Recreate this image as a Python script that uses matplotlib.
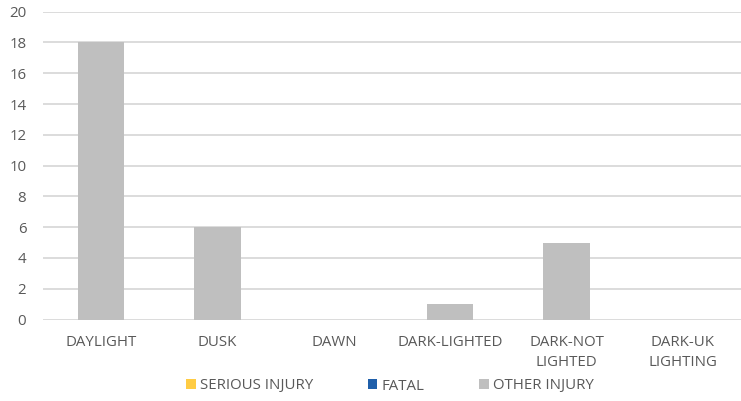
import matplotlib
matplotlib.use("Agg")
import matplotlib.pyplot as plt
import numpy as np

categories = ["DAYLIGHT", "DUSK", "DAWN", "DARK-LIGHTED", "DARK-NOT\nLIGHTED", "DARK-UK\nLIGHTING"]
serious_injury = [0, 0, 0, 0, 0, 0]
fatal = [0, 0, 0, 0, 0, 0]
other_injury = [18, 6, 0, 1, 5, 0]
series_names = ["SERIOUS INJURY", "FATAL", "OTHER INJURY"]
series_colors = ["#FFCC44", "#1F5FAA", "#BFBFBF"]
y_ticks = [0, 2, 4, 6, 8, 10, 12, 14, 16, 18, 20]

plt.rcParams['font.family'] = ['Open Sans', 'DejaVu Sans']
txt = "#595959"

fig = plt.figure(figsize=(7.41, 4.01), dpi=100)
ax = fig.add_axes([43/741, 1 - 319.5/401, 698/741, (319.5 - 11.7)/401])

x = np.arange(len(categories))
w = 0.4
for vals, name, col in zip([serious_injury, fatal, other_injury], series_names, series_colors):
    ax.bar(x, vals, width=w, color=col, label=name, zorder=3)

ax.set_xlim(-0.5, len(categories) - 0.5)
ax.set_ylim(0, 20)
ax.set_yticks(y_ticks)
ax.set_xticks(x)
ax.set_xticklabels(categories, linespacing=1.45)
ax.tick_params(axis='y', length=0, pad=12, labelsize=10.8, labelcolor=txt)
ax.tick_params(axis='x', length=0, pad=11, labelsize=10.8, labelcolor=txt)
ax.grid(axis='y', color="#D9D9D9", linewidth=1.3, zorder=0)
for s in ax.spines.values():
    s.set_visible(False)

handles, labels = ax.get_legend_handles_labels()
leg = fig.legend(handles, labels, loc='center', bbox_to_anchor=(390/741, 1 - 386/401),
                 ncol=3, frameon=False, fontsize=10.8, handlelength=0.65, handleheight=0.65,
                 handletextpad=0.3, columnspacing=3.6, labelcolor=txt)

fig.savefig("out.png", dpi=100)
